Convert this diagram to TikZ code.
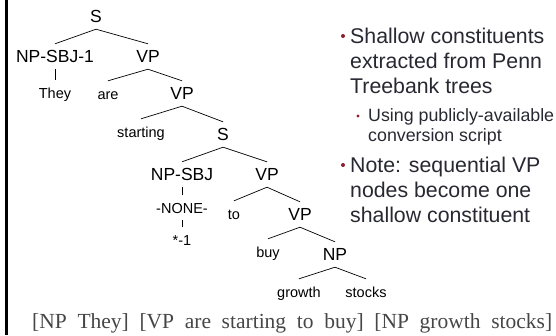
\documentclass[tikz,border=0pt]{standalone}
\usepackage{fontspec}
\setmainfont{Liberation Serif}
\setsansfont{Liberation Sans}
\usepackage{xcolor}
\usepackage{tikz}
\usetikzlibrary{positioning}

\definecolor{slidered}{RGB}{140,30,45}
\definecolor{slidetext}{RGB}{40,40,50}
\definecolor{chunktext}{RGB}{70,70,70}

\begin{document}
\begin{tikzpicture}[
  x=1pt,y=-1pt,
  tag/.style={font=\sffamily\fontsize{17.5}{20}\selectfont,anchor=base,text height=12.5pt,text depth=1.5pt,inner xsep=0pt,inner ysep=5.5pt},
  word/.style={tag,font=\sffamily\fontsize{14.5}{17}\selectfont},
  branch/.style={line width=0.7pt},
  point/.style={anchor=base west,inner sep=0pt,text=slidetext,font=\sffamily\fontsize{21.3}{25}\selectfont},
  subpoint/.style={point,font=\sffamily\fontsize{17.8}{20}\selectfont},
  dot/.style={circle,fill=slidered,inner sep=0pt,minimum size=4pt},
  subdot/.style={dot,minimum size=3.2pt}
]
\useasboundingbox (0,0) rectangle (556,335);
\draw[line width=2.5pt] (6.5,0) -- (6.5,335);

% parse tree
\node[tag] (s) at (96,22) {S};
\node[tag] (npsbj1) at (55,62) {NP-SBJ-1};
\node[tag] (vp1) at (148,62) {VP};
\node[word] (they) at (55,98) {They};
\node[word] (are) at (108,99) {are};
\node[tag] (vp2) at (182,99) {VP};
\node[word] (starting) at (141,137) {starting};
\node[tag] (s2) at (223,140) {S};
\node[tag] (npsbj) at (182,180) {NP-SBJ};
\node[tag] (vp3) at (267,180) {VP};
\node[word] (none) at (182,213) {-NONE-};
\node[word] (trace) at (182,245) {*-1};
\node[word] (to) at (234,219) {to};
\node[tag] (vp4) at (300,220) {VP};
\node[word] (buy) at (268,257) {buy};
\node[tag] (np) at (335,260) {NP};
\node[word] (growth) at (299,297) {growth};
\node[word] (stocks) at (366,297) {stocks};

\draw[branch] (s.south) -- (npsbj1.north); \draw[branch] (s.south) -- (vp1.north);
\draw[branch] (npsbj1.south) -- (they.north);
\draw[branch] (vp1.south) -- (are.north); \draw[branch] (vp1.south) -- (vp2.north);
\draw[branch] (vp2.south) -- (starting.north); \draw[branch] (vp2.south) -- (s2.north);
\draw[branch] (s2.south) -- (npsbj.north); \draw[branch] (s2.south) -- (vp3.north);
\draw[branch] (npsbj.south) -- (none.north); \draw[branch] (none.south) -- (trace.north);
\draw[branch] (vp3.south) -- (to.north); \draw[branch] (vp3.south) -- (vp4.north);
\draw[branch] (vp4.south) -- (buy.north); \draw[branch] (vp4.south) -- (np.north);
\draw[branch] (np.south) -- (growth.north); \draw[branch] (np.south) -- (stocks.north);

% bullet points
\node[dot] (b1) at (343,36) {};
\node[point] (l1) at (350,43) {Shallow constituents};
\node[point] (l2) at (350,68) {extracted from Penn};
\node[point] (l3) at (350,93) {Treebank trees};
\node[subdot] (b2) at (358,116) {};
\node[subpoint] (l4) at (368,121) {Using publicly-available};
\node[subpoint] (l5) at (368,141) {conversion script};
\node[dot] (b3) at (343,165) {};
\node[point] (l6) at (350,172) {Note: sequential VP};
\node[point] (l7) at (350,197) {nodes become one};
\node[point] (l8) at (350,222) {shallow constituent};

% chunked sentence
\node[anchor=base west,inner sep=0pt,text=chunktext,font=\fontsize{21.5}{25}\selectfont] (chunks) at (32,328)
  {\makebox[520pt][s]{[NP They] [VP are starting to buy] [NP growth stocks]}};
\end{tikzpicture}
\end{document}
